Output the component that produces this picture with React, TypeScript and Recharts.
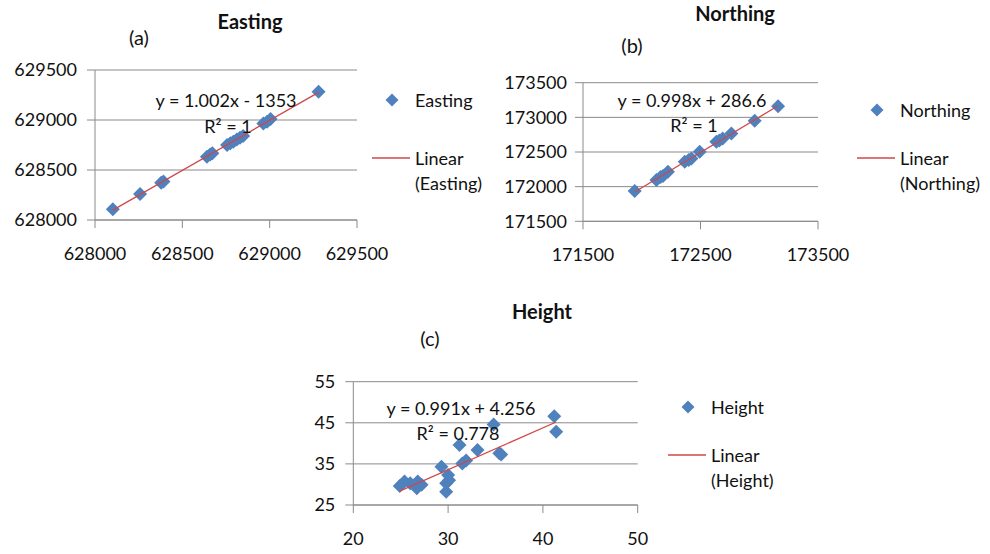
import React from 'react';
import { ScatterChart, Scatter, XAxis, YAxis, CartesianGrid, Legend } from 'recharts';

// (a) Easting
const eastingX = [628102, 628258, 628379, 628392, 628641, 628660, 628672, 628756, 628775, 628792, 628812, 628830, 628848, 628964, 628985, 629005, 629280];
const eastingY = [628107, 628260, 628373, 628386, 628633, 628655, 628667, 628750, 628768, 628783, 628805, 628822, 628840, 628965, 628983, 629010, 629283];
const eastingTicks = [628000, 628500, 629000, 629500];

// (b) Northing
const northingX = [171940, 172125, 172160, 172181, 172223, 172366, 172400, 172423, 172493, 172635, 172660, 172689, 172763, 172961, 173160];
const northingY = [171937, 172095, 172140, 172153, 172215, 172359, 172385, 172408, 172503, 172647, 172665, 172696, 172768, 172950, 173160];
const northingXTicks = [171500, 172500, 173500];
const northingYTicks = [171500, 172000, 172500, 173000, 173500];

// (c) Height
const heightX = [24.9, 25.4, 26.0, 26.7, 26.8, 27.2, 29.3, 29.8, 29.8, 30.0, 30.1, 31.2, 31.5, 31.9, 33.1, 34.8, 35.4, 35.6, 41.2, 41.4];
const heightY = [29.6, 30.7, 30.3, 29.1, 30.7, 29.9, 34.3, 28.2, 30.3, 32.3, 31.0, 39.6, 35.1, 35.8, 38.4, 44.6, 37.6, 37.3, 46.6, 42.8];
const heightXTicks = [20, 30, 40, 50];
const heightYTicks = [25, 35, 45, 55];

const BLUE = '#4F81BD';
const RED = '#D0474A';
const GRID = '#8a8a8a';
const INK = '#111';
const FONT = 'Lato, "Liberation Sans", sans-serif';

const toPoints = (xs: number[], ys: number[]) => xs.map((x, i) => ({ x, y: ys[i] }));

// least squares trendline, drawn from min x to max x like Excel
const trend = (xs: number[], ys: number[]) => {
  const n = xs.length;
  const mx = xs.reduce((a, b) => a + b, 0) / n;
  const my = ys.reduce((a, b) => a + b, 0) / n;
  let sxy = 0;
  let sxx = 0;
  xs.forEach((x, i) => {
    sxy += (x - mx) * (ys[i] - my);
    sxx += (x - mx) * (x - mx);
  });
  const b = sxy / sxx;
  const a = my - b * mx;
  const lo = Math.min(...xs);
  const hi = Math.max(...xs);
  return [
    { x: lo, y: a + b * lo },
    { x: hi, y: a + b * hi },
  ];
};

const Diamond = (props: any) => {
  const { cx, cy } = props;
  const r = 7;
  return <polygon points={`${cx},${cy - r} ${cx + r},${cy} ${cx},${cy + r} ${cx - r},${cy}`} fill={BLUE} />;
};

const Nothing = () => <g />;

const Label = ({ x, y, text, bold = false, size = 18 }: any) => (
  <div
    style={{
      position: 'absolute',
      left: x,
      top: y,
      transform: 'translate(-50%, -50%)',
      fontFamily: FONT,
      fontSize: size,
      fontWeight: bold ? 700 : 400,
      color: INK,
      whiteSpace: 'nowrap',
      lineHeight: 1,
    }}
  >
    {text}
  </div>
);

function Panel(p: any) {
  const pts = toPoints(p.xs, p.ys);
  const line = trend(p.xs, p.ys);
  const legendContent = () => (
    <div style={{ position: 'relative', width: 150, height: 110, fontFamily: FONT, fontSize: 18, color: INK }}>
      <svg style={{ position: 'absolute', left: 0, top: 0 }} width={40} height={110}>
        <polygon points={`20,${p.row1 - 6.5} 26.5,${p.row1} 20,${p.row1 + 6.5} 13.5,${p.row1}`} fill={BLUE} />
        <line x1={0} x2={38} y1={p.row2} y2={p.row2} stroke={RED} strokeWidth={1.3} />
      </svg>
      <div style={{ position: 'absolute', left: 43, top: p.row1 - 11, lineHeight: '22px', whiteSpace: 'nowrap' }}>{p.name}</div>
      <div style={{ position: 'absolute', left: 43, top: p.row2 - 12, lineHeight: '25px', whiteSpace: 'nowrap' }}>
        Linear
        <br />({p.name})
      </div>
    </div>
  );
  return (
    <div style={{ position: 'absolute', left: p.left, top: p.top, fontFamily: FONT }}>
      <ScatterChart width={p.width} height={p.height} margin={p.margin}>
        <CartesianGrid horizontal vertical={false} stroke={GRID} strokeWidth={1} />
        <XAxis
          type="number"
          dataKey="x"
          domain={p.xDomain}
          ticks={p.xTicks}
          interval={0}
          height={p.xAxisHeight}
          tickSize={8}
          tickMargin={19}
          axisLine={{ stroke: GRID }}
          tickLine={{ stroke: GRID }}
          tick={{ fill: INK, fontSize: 18, fontFamily: FONT }}
          allowDataOverflow
        />
        <YAxis
          type="number"
          dataKey="y"
          domain={p.yDomain}
          ticks={p.yTicks}
          interval={0}
          width={p.yAxisWidth}
          tickSize={8}
          tickMargin={p.yTickMargin}
          axisLine={{ stroke: GRID }}
          tickLine={{ stroke: GRID }}
          tick={{ fill: INK, fontSize: 18, fontFamily: FONT }}
          allowDataOverflow
        />
        <Scatter data={pts} shape={Diamond} isAnimationActive={false} />
        <Scatter data={line} line={{ stroke: RED, strokeWidth: 1.3 }} shape={Nothing} isAnimationActive={false} legendType="none" />
        <Legend
          layout="vertical"
          align="center"
          verticalAlign="middle"
          content={legendContent}
          wrapperStyle={{ left: p.legendLeft, top: p.legendTop, width: 150, height: 110 }}
        />
      </ScatterChart>
    </div>
  );
}

export default function App() {
  return (
    <div style={{ position: 'absolute', left: 0, top: 0, width: 990, height: 554, background: '#fff', overflow: 'hidden' }}>
      <Panel
        left={0}
        top={0}
        width={500}
        height={290}
        margin={{ top: 70, right: 143, bottom: 30, left: 15 }}
        xs={eastingX}
        ys={eastingY}
        name="Easting"
        xDomain={[628000, 629500]}
        yDomain={[628000, 629500]}
        xTicks={eastingTicks}
        yTicks={eastingTicks}
        yAxisWidth={80}
        yTickMargin={10}
        xAxisHeight={40}
        legendLeft={372}
        legendTop={80}
        row1={20}
        row2={78}
      />
      <Panel
        left={480}
        top={0}
        width={510}
        height={290}
        margin={{ top: 82.7, right: 172, bottom: 28.7, left: 18 }}
        xs={northingX}
        ys={northingY}
        name="Northing"
        xDomain={[171500, 173500]}
        yDomain={[171500, 173500]}
        xTicks={northingXTicks}
        yTicks={northingYTicks}
        yAxisWidth={85}
        yTickMargin={8}
        xAxisHeight={40}
        legendLeft={377}
        legendTop={90}
        row1={20}
        row2={68}
      />
      <Panel
        left={270}
        top={290}
        width={520}
        height={264}
        margin={{ top: 91.7, right: 152.3, bottom: 4, left: 23.3 }}
        xs={heightX}
        ys={heightY}
        name="Height"
        xDomain={[20, 50]}
        yDomain={[25, 55]}
        xTicks={heightXTicks}
        yTicks={heightYTicks}
        yAxisWidth={60}
        yTickMargin={10}
        xAxisHeight={45}
        legendLeft={398}
        legendTop={97}
        row1={20}
        row2={68}
      />

      <Label x={250} y={21} text="Easting" bold size={20} />
      <Label x={139} y={37} text="(a)" size={20} />
      <Label x={226} y={100} text="y = 1.002x - 1353" />
      <Label x={228} y={126} text="R² = 1" />

      <Label x={735} y={13} text="Northing" bold size={20} />
      <Label x={632} y={45} text="(b)" size={20} />
      <Label x={692} y={100} text="y = 0.998x + 286.6" />
      <Label x={694} y={125} text="R² = 1" />

      <Label x={542} y={311} text="Height" bold size={20} />
      <Label x={430} y={338} text="(c)" size={20} />
      <Label x={461} y={408} text="y = 0.991x + 4.256" />
      <Label x={458} y={433} text="R² = 0.778" />
    </div>
  );
}
